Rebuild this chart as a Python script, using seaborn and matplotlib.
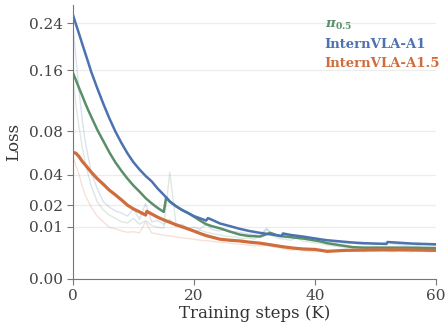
import numpy as np
import pandas as pd
import matplotlib
matplotlib.use("Agg")
import matplotlib.pyplot as plt
import seaborn as sns

# smoothed curves (x in K steps, loss)
a1_x = [0, 0.5, 1, 1.5, 2, 2.5, 3, 4, 5, 6, 7, 8, 9, 10, 11, 12, 13, 14, 15, 16, 17, 18, 19,
        20, 21, 22, 22.3, 23, 24.3, 26, 27.6, 29, 30.9, 32.6, 34.5, 34.7, 36, 38, 40.8, 42,
        44, 46, 48, 50, 51.8, 52, 54, 56, 58, 60]
a1_y = [0.256, 0.238, 0.221, 0.204, 0.188, 0.173, 0.158, 0.134, 0.113, 0.095, 0.080, 0.068,
        0.058, 0.050, 0.044, 0.039, 0.035, 0.030, 0.026, 0.022, 0.0195, 0.0175, 0.016, 0.0145,
        0.0135, 0.0125, 0.0136, 0.0128, 0.0113, 0.0102, 0.0092, 0.0085, 0.0078, 0.0073, 0.0068,
        0.0076, 0.0071, 0.0066, 0.0058, 0.0055, 0.0052, 0.0049, 0.0047, 0.0046, 0.0045, 0.0050,
        0.0048, 0.0046, 0.0045, 0.0044]

pi_x = [0, 0.5, 1, 1.5, 2, 2.5, 3, 4, 5, 6, 7, 8, 9, 10, 11, 12, 13, 14, 15, 15.4, 16, 17, 18,
        19, 20, 21, 22, 23, 24.3, 26, 27.6, 29, 30.9, 32.6, 34, 36, 38, 40.8, 42, 44, 46.3, 48,
        52, 56, 60]
pi_y = [0.156, 0.145, 0.134, 0.124, 0.114, 0.105, 0.097, 0.082, 0.070, 0.059, 0.050, 0.043,
        0.037, 0.032, 0.028, 0.024, 0.021, 0.0185, 0.0165, 0.0245, 0.022, 0.0195, 0.0175, 0.016,
        0.0142, 0.0125, 0.011, 0.0102, 0.0094, 0.0082, 0.0072, 0.0068, 0.0066, 0.0078, 0.0068,
        0.0064, 0.0060, 0.0052, 0.0047, 0.0042, 0.0037, 0.0036, 0.0036, 0.0036, 0.0035]

a15_x = [0, 0.5, 1, 1.5, 2, 3, 4, 5, 6, 7, 8, 9, 10, 11, 12, 12.2, 13, 14, 15, 16, 17, 18, 19,
         20, 21, 22, 23, 24.3, 26, 27.6, 29, 30.9, 33, 34.7, 36.4, 38, 40, 42, 45, 50, 55, 60]
a15_y = [0.059, 0.058, 0.055, 0.051, 0.048, 0.042, 0.037, 0.033, 0.029, 0.026, 0.023, 0.020,
         0.018, 0.0165, 0.0150, 0.0168, 0.0155, 0.0140, 0.0128, 0.0118, 0.0108, 0.0100, 0.0092,
         0.0084, 0.0076, 0.0069, 0.0064, 0.0058, 0.0055, 0.0053, 0.0050, 0.0047, 0.0042, 0.0038,
         0.0035, 0.0033, 0.0032, 0.0028, 0.0030, 0.0031, 0.0031, 0.0030]

# raw (unsmoothed) curves
raw_x = [0, 0.5, 1, 1.5, 2] + list(range(3, 61))
a1_raw = [0.235, 0.18, 0.13, 0.095, 0.07, 0.042, 0.03, 0.022, 0.019, 0.017, 0.016, 0.0145,
          0.018, 0.013, 0.021, 0.012, 0.0125, 0.011, 0.013, 0.010, 0.011, 0.0095, 0.0098,
          0.0092, 0.011, 0.009, 0.0085, 0.0088, 0.008, 0.0082, 0.0078, 0.0074, 0.0072, 0.0068,
          0.009, 0.0075, 0.007, 0.0072, 0.0066, 0.0062, 0.006, 0.0058, 0.0056, 0.0052, 0.005,
          0.0048, 0.0049, 0.0046, 0.0047, 0.0045, 0.0044, 0.0045, 0.0043, 0.0046, 0.0052,
          0.0045, 0.0043, 0.0042, 0.0044, 0.0041, 0.0043, 0.0042, 0.0041]
pi_raw = [0.15, 0.11, 0.085, 0.065, 0.05, 0.032, 0.022, 0.0175, 0.015, 0.0135, 0.012, 0.0115,
          0.0135, 0.011, 0.0125, 0.0105, 0.0098, 0.0095, 0.042, 0.0115, 0.0098, 0.009, 0.0085,
          0.0088, 0.008, 0.0076, 0.0072, 0.0068, 0.0066, 0.0064, 0.006, 0.0062, 0.0058, 0.0072,
          0.0095, 0.0068, 0.006, 0.0058, 0.0055, 0.0062, 0.0052, 0.005, 0.0048, 0.0046, 0.0042,
          0.004, 0.0038, 0.0037, 0.0036, 0.0035, 0.0036, 0.0034, 0.0035, 0.0037, 0.0034,
          0.0035, 0.0033, 0.0035, 0.0034, 0.0036, 0.0033, 0.0034, 0.0035]
a15_raw = [0.055, 0.047, 0.04, 0.032, 0.026, 0.019, 0.0145, 0.012, 0.0098, 0.0092, 0.0085,
           0.008, 0.0082, 0.0078, 0.012, 0.0078, 0.0074, 0.007, 0.0068, 0.0065, 0.0062, 0.006,
           0.0058, 0.0055, 0.0054, 0.0052, 0.005, 0.0049, 0.0047, 0.0045, 0.0044, 0.0042,
           0.0041, 0.004, 0.0042, 0.0038, 0.0036, 0.0033, 0.003, 0.0032, 0.0029, 0.0028,
           0.0027, 0.0028, 0.0027, 0.0029, 0.0028, 0.003, 0.0028, 0.0029, 0.0027, 0.0029,
           0.0028, 0.003, 0.0028, 0.0027, 0.0029, 0.0028, 0.0027, 0.0029, 0.0028, 0.0027,
           0.0028]

y_ticks = [0.00, 0.01, 0.02, 0.04, 0.08, 0.16, 0.24]
x_ticks = [0, 20, 40, 60]

C_PI = "#5A8F69"
C_A1 = "#4C72B0"
C_A15 = "#CF6D3D"

sns.set_style("ticks")
plt.rcParams["font.family"] = ["DejaVu Serif"]
plt.rcParams["mathtext.fontset"] = "dejavuserif"

fig = plt.figure(figsize=(4.45, 3.27), dpi=100)
ax = fig.add_axes([0.164, 0.147, 0.816, 0.838])
ax.set_yscale("function", functions=(lambda v: np.sqrt(np.clip(v, 0, None)), np.square))

raw_df = pd.DataFrame({"x": raw_x, "a1": a1_raw, "pi": pi_raw, "a15": a15_raw})
for col, c in [("a1", C_A1), ("pi", C_PI), ("a15", C_A15)]:
    sns.lineplot(data=raw_df, x="x", y=col, color=c, alpha=0.2, linewidth=1.0, ax=ax)

sns.lineplot(x=pi_x, y=pi_y, color=C_PI, linewidth=1.8, ax=ax, label=r"$\mathbfit{\pi}_{\mathbf{0.5}}$")
sns.lineplot(x=a1_x, y=a1_y, color=C_A1, linewidth=1.8, ax=ax, label="InternVLA-A1")
sns.lineplot(x=a15_x, y=a15_y, color=C_A15, linewidth=2.3, ax=ax, label="InternVLA-A1.5")

ax.set_xlim(0, 60)
ax.set_ylim(0, 0.276)
ax.set_xticks(x_ticks)
ax.set_yticks(y_ticks)
ax.set_yticklabels([f"{t:.2f}" for t in y_ticks])
ax.yaxis.grid(True, color="#EDEDED", linewidth=0.9)
ax.xaxis.grid(False)
for s in ["top", "right"]:
    ax.spines[s].set_visible(False)
for s in ["left", "bottom"]:
    ax.spines[s].set_color("#777777")
ax.tick_params(colors="#777777", labelcolor="#444444", labelsize=11, length=4)
ax.set_xlabel("Training steps (K)", fontsize=12, color="#333333", labelpad=1)
ax.set_ylabel("Loss", fontsize=12, color="#333333", labelpad=5)

leg = ax.legend(loc="upper left", bbox_to_anchor=(0.675, 0.978), frameon=False,
                handlelength=0, handletextpad=0, borderpad=0, labelspacing=0.45,
                prop={"weight": "bold", "size": 9.5})
for h, t in zip(leg.legend_handles, leg.get_texts()):
    h.set_visible(False)
    t.set_color(h.get_color())

fig.savefig("out.png", dpi=100)
